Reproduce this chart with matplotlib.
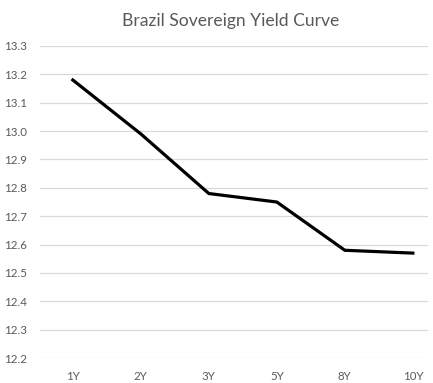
import matplotlib

matplotlib.use("Agg")
import matplotlib.pyplot as plt
import numpy as np

# Tenors and yields
tenors = ["1Y", "2Y", "3Y", "5Y", "8Y", "10Y"]
yields = [13.18, 12.99, 12.78, 12.75, 12.58, 12.57]
y_ticks = [12.2, 12.3, 12.4, 12.5, 12.6, 12.7, 12.8, 12.9, 13.0, 13.1, 13.2, 13.3]

plt.rcParams["font.family"] = ["Lato", "DejaVu Sans"]

fig = plt.figure(figsize=(4.33, 3.83), dpi=100)
ax = fig.add_axes([0.092, 0.065, 0.896, 0.815])

x = np.arange(len(tenors))
ax.plot(x, yields, color="black", linewidth=2.3, solid_joinstyle="miter", zorder=3)

ax.set_xlim(-0.485, len(tenors) - 1 + 0.22)
ax.set_ylim(12.2, 13.3)
ax.set_yticks(y_ticks)
ax.set_yticklabels([f"{v:.1f}" for v in y_ticks])
ax.set_xticks(x)
ax.set_xticklabels(tenors)

ax.grid(True, axis="y", color="#d9d9d9", linewidth=0.9)
ax.set_axisbelow(True)
for side in ("top", "right", "left", "bottom"):
    ax.spines[side].set_visible(False)
ax.tick_params(axis="both", length=0, labelsize=8.3, colors="#595959")
ax.tick_params(axis="x", pad=9)
ax.tick_params(axis="y", pad=9)

fig.text(0.532, 0.945, "Brazil Sovereign Yield Curve", ha="center", va="center",
         fontsize=12.6, color="#595959")

fig.savefig("out.png", dpi=100)
plt.close(fig)
